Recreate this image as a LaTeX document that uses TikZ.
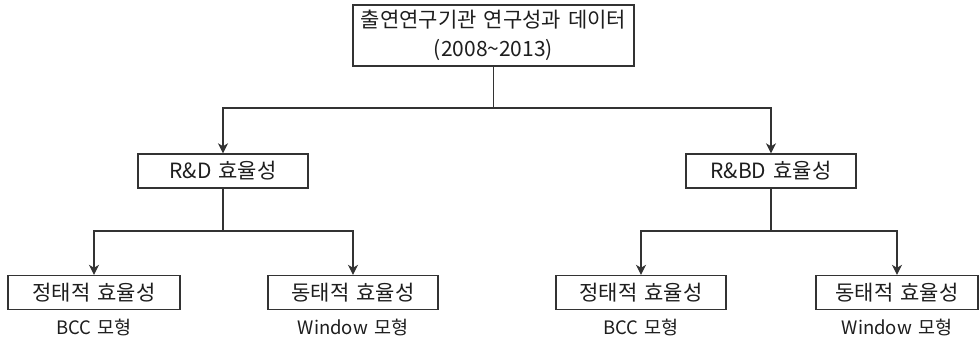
\documentclass[tikz,border=0pt]{standalone}
\usepackage{fontspec}
\setmainfont{Noto Sans CJK KR}[WordSpace=1.5]
\usetikzlibrary{arrows.meta}
\definecolor{ln}{HTML}{333333}
\definecolor{tx}{HTML}{1E1E1E}
\tikzset{
  box/.style={draw=ln, line width=1.4pt, fill=white, minimum height=34pt, inner sep=0pt, text=tx, font=\fontsize{21}{25}\selectfont},
  lab/.style={inner sep=0pt, text=tx, font=\fontsize{18.5}{22}\selectfont},
  conn/.style={draw=ln, line width=1.1pt},
  arr/.style={conn, -{Stealth[length=10pt, width=10pt, inset=3pt]}}
}
\begin{document}
\begin{tikzpicture}[x=1pt, y=-1pt]
\useasboundingbox (0,0) rectangle (979,339);
\fill[white] (0,0) rectangle (979,339);
\node[box, minimum width=281pt, minimum height=61pt, align=center, font=\fontsize{21}{29}\selectfont] (top) at (493.5,35.5) {출연연구기관 연구성과 데이터\\(2008\textasciitilde 2013)};
\node[box, minimum width=170pt] (rd) at (223,171) {R\&D 효율성};
\node[box, minimum width=170pt] (rbd) at (771,171) {R\&BD 효율성};
\node[box, minimum width=172pt] (a1) at (94,292.5) {정태적 효율성};
\node[box, minimum width=170pt] (a2) at (353,292.5) {동태적 효율성};
\node[box, minimum width=170pt] (b1) at (641,292.5) {정태적 효율성};
\node[box, minimum width=162pt] (b2) at (897,292.5) {동태적 효율성};
\node[lab] (la1) at (94,327) {BCC 모형};
\node[lab] (la2) at (353,327) {Window 모형};
\node[lab] (lb1) at (641,327) {BCC 모형};
\node[lab] (lb2) at (897,327) {Window 모형};
\coordinate (s0) at (0,108);
\coordinate (s1) at (0,231);
\draw[conn] (top.south) -- (top.south |- s0);
\draw[arr] (top.south |- s0) -| (rd.north);
\draw[arr] (top.south |- s0) -| (rbd.north);
\draw[conn] (rd.south) -- (rd.south |- s1);
\draw[arr] (rd.south |- s1) -| (a1.north);
\draw[arr] (rd.south |- s1) -| (a2.north);
\draw[conn] (rbd.south) -- (rbd.south |- s1);
\draw[arr] (rbd.south |- s1) -| (b1.north);
\draw[arr] (rbd.south |- s1) -| (b2.north);
\end{tikzpicture}
\end{document}
